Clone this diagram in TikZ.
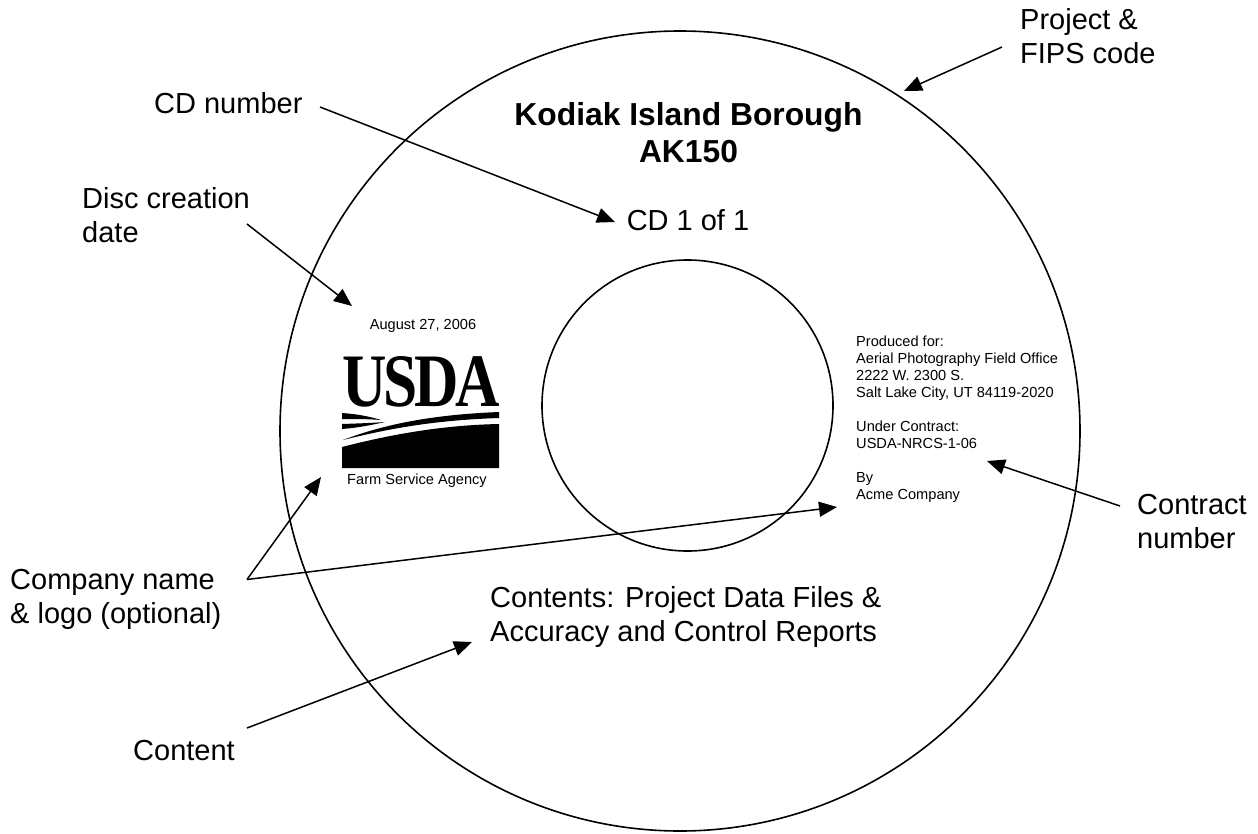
\documentclass[tikz,border=0pt]{standalone}
\usepackage{fontspec}
\usepackage{graphicx}
\setmainfont{Liberation Sans}
\newfontfamily\serifusda{Liberation Serif}
\usetikzlibrary{arrows.meta}
\tikzset{
  disc/.style={draw=black,line width=1.6pt,fill=none},
  pointer/.style={draw=black,line width=1.5pt,-{Triangle[length=18pt,width=15pt]}},
  lab/.style={font=\fontsize{29}{33.5}\selectfont,align=left,anchor=base west,inner sep=0pt},
  small/.style={font=\fontsize{14.6}{16.9}\selectfont,align=left,anchor=base west,inner sep=0pt},
  ctr/.style={align=center,anchor=base,inner sep=0pt}
}
\begin{document}
\begin{tikzpicture}[x=1pt,y=-1pt]
\useasboundingbox (0,0) rectangle (1258,833);
\fill[white] (0,0) rectangle (1258,833);
\draw[disc] (680,431) circle (400);
\draw[disc] (687.5,405.5) circle (145.5);
% texts
\node[ctr,font=\bfseries\fontsize{31.8}{37}\selectfont] (title) at (688.5,162) {Kodiak Island Borough\\AK150};
\node[ctr,font=\fontsize{29}{34}\selectfont] (cd) at (688,230) {CD 1 of 1};
\node[ctr,font=\fontsize{14.6}{17}\selectfont] (date) at (423,329) {August 27, 2006};
\node[small] (prod) at (856,499) {Produced for:\\Aerial Photography Field Office\\2222 W. 2300 S.\\Salt Lake City, UT 84119-2020\\[16.9pt]Under Contract:\\USDA-NRCS-1-06\\[16.9pt]By\\Acme Company};
\node[ctr,font=\fontsize{14.6}{17}\selectfont] (fsa) at (417,484) {Farm Service Agency};
\node[lab] (cont) at (490,641) {Contents: Project Data Files \&\\Accuracy and Control Reports};
% logo
\node[inner sep=0pt,anchor=south west] (usda) at (342,407.5) {\resizebox{158pt}{50pt}{\serifusda\bfseries U\kern-.05em S\kern-.05em D\kern-.05em A}};
\fill[black] (342,447) .. controls (400,432) and (450,425) .. (499,424) -- (499,468) -- (342,468) -- cycle;
\fill[black] (343,440) .. controls (395,420) and (450,414) .. (499,412) -- (499,418) .. controls (440,420) and (395,427) .. (343,440) -- cycle;
\fill[black] (342,413) .. controls (356,414) and (368,416) .. (381,420) .. controls (368,419) and (356,419) .. (342,419) -- cycle;
\fill[black] (342,424) .. controls (356,423.5) and (372,423) .. (385,422) .. controls (372,425) and (356,428) .. (342,429) -- cycle;
% labels
\node[lab] (fips) at (1020,63) {Project \&\\FIPS code};
\node[lab] (cdn) at (154,113) {CD number};
\node[lab] (dcd) at (82,242) {Disc creation\\date};
\node[lab] (cn) at (1137,548) {Contract\\number};
\node[lab] (co) at (10,623) {Company name\\\& logo (optional)};
\node[lab] (con) at (133,760) {Content};
% connectors
\coordinate (fips0) at (1002,47); \coordinate (fips1) at (904,91);
\coordinate (cd0) at (320,107); \coordinate (cd1) at (615,222);
\coordinate (d0) at (247,224); \coordinate (d1) at (352,306);
\coordinate (cn0) at (1120,506); \coordinate (cn1) at (987,461);
\coordinate (co0) at (247,579.5); \coordinate (co1) at (321,477); \coordinate (co2) at (837,507);
\coordinate (c0) at (247,728); \coordinate (c1) at (472,642);
\draw[pointer] (fips0) -- (fips1);
\draw[pointer] (cd0) -- (cd1);
\draw[pointer] (d0) -- (d1);
\draw[pointer] (cn0) -- (cn1);
\draw[pointer] (co0) -- (co1);
\draw[pointer] (co0) -- (co2);
\draw[pointer] (c0) -- (c1);
\end{tikzpicture}
\end{document}
